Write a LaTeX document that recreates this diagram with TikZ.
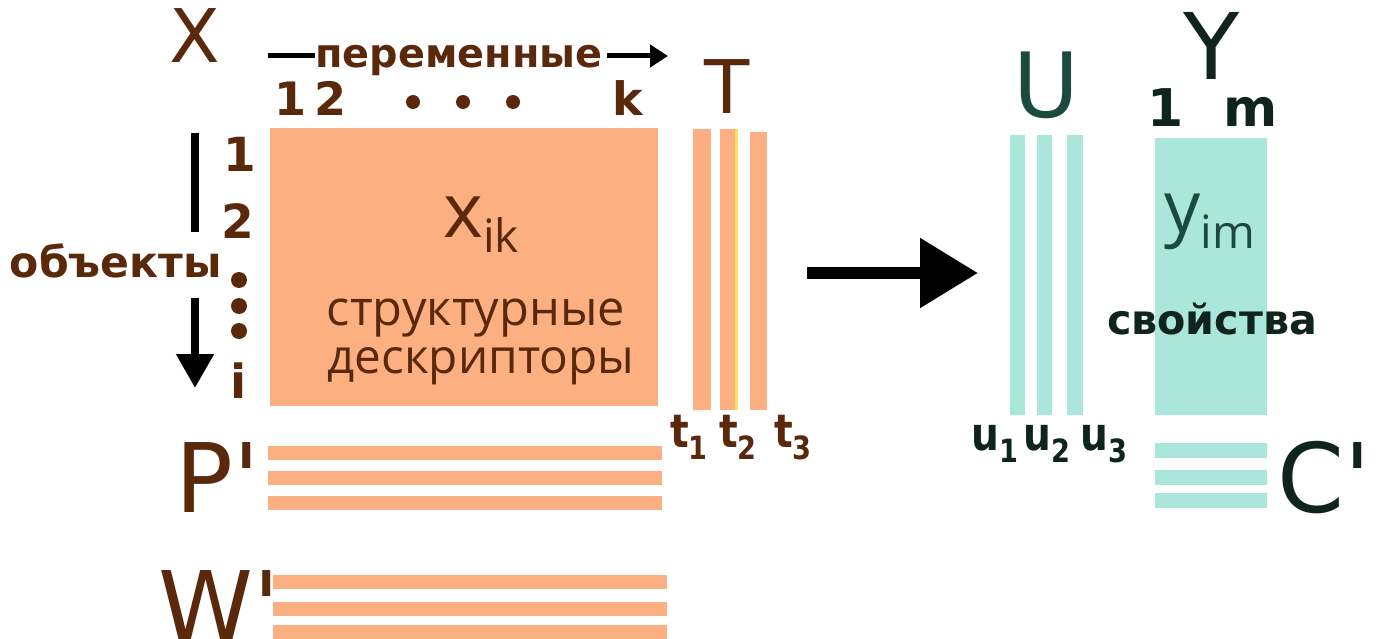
\documentclass[tikz,border=0pt]{standalone}
\usepackage{fontspec}
\usepackage{graphicx}
\setmainfont{DejaVu Sans}
\newfontfamily\plainf{DejaVu Sans}[Ligatures=TeXOff]
\newfontfamily\osans{Open Sans}
\usetikzlibrary{arrows.meta}
\definecolor{brn}{HTML}{5A280A}
\definecolor{orng}{HTML}{FCAF80}
\definecolor{yel}{HTML}{FFE45A}
\definecolor{tl}{HTML}{AAE6DA}
\definecolor{dtl}{HTML}{1B4A3E}
\definecolor{dk}{HTML}{10241E}
\newcommand{\fsz}[1]{\fontsize{#1pt}{#1pt}\selectfont}
\newcommand{\cnd}[1]{\scalebox{0.85}[1]{#1}}
\begin{document}
\begin{tikzpicture}[x=1pt,y=-1pt,
  lab/.style={inner sep=0pt, outer sep=0pt, anchor=base},
  bigB/.style={lab, text=brn, font=\plainf\fsz{74}},
  numB/.style={lab, text=brn, font=\bfseries\fsz{46}},
  numC/.style={lab, text=brn, font=\bfseries\fsz{47}},
  sublab/.style={lab, font=\bfseries\fsz{46}},
  obar/.style={fill=orng, draw=none, inner sep=0pt, outer sep=0pt, anchor=north west},
  tbar/.style={fill=tl, draw=none, inner sep=0pt, outer sep=0pt, anchor=north west},
  dotn/.style={circle, fill=brn, draw=none, inner sep=0pt, minimum size=#1},
  thickline/.style={line width=#1, draw=black},
]
\useasboundingbox (0,0) rectangle (1378,639);

% ---------- left block ----------
\node[bigB] (X) at (195,63) {X};
\node[lab, text=brn, font=\bfseries\fsz{40}] (per) at (459,68) {\resizebox{287pt}{!}{переменные}};
\coordinate (dsh) at (268,56);
\coordinate (arrE) at (668,56);
\draw[thickline=5pt] (dsh) -- (dsh -| per.west);
\draw[thickline=5pt, -{Triangle[length=18pt,width=22pt]}] ([xshift=4pt]per.east |- dsh) -- (arrE);

\node[numB] (c1) at (290,116) {1};
\node[numB] (c2) at (330,116) {2};
\node[dotn=14pt] (cd1) at (413,102) {};
\node[dotn=14pt] (cd2) at (463,102) {};
\node[dotn=14pt] (cd3) at (513,102) {};
\node[numB] (ck) at (628,116) {k};

\node[numC] (r1) at (240,172) {1};
\node[numC] (r2) at (238,238) {2};
\node[dotn=16pt] (rd1) at (239,280) {};
\node[dotn=16pt] (rd2) at (239,306) {};
\node[dotn=16pt] (rd3) at (239,331) {};
\node[numC] (ri) at (239,398) {i};

\node[lab, text=brn, font=\bfseries\fsz{40}] (obj) at (116,277) {\resizebox{212pt}{!}{объекты}};
\coordinate (va) at (195,133);
\coordinate (vb) at (195,232);
\coordinate (vc) at (195,298);
\coordinate (vd) at (195,388);
\draw[thickline=8pt] (va) -- (vb);
\draw[thickline=8pt, -{Triangle[length=34pt,width=36pt]}] (vc) -- (vd);

\node[obar, minimum width=388pt, minimum height=278pt] (xm) at (270,128) {};
\node[lab, text=brn, font=\osans\fsz{76}] (xik) at (481,237) {x\raisebox{-15pt}{\fsz{46}ik}};
\node[lab, text=brn, font=\osans\fsz{50}] (d1) at (476,325) {\resizebox{298pt}{!}{структурные}};
\node[lab, text=brn, font=\osans\fsz{50}] (d2) at (481,373) {\resizebox{307pt}{!}{дескрипторы}};

% T bars
\node[bigB] (T) at (727,114) {T};
\node[obar, minimum width=18pt, minimum height=281pt] (tb1) at (693,129) {};
\node[obar, minimum width=15pt, minimum height=281pt] (tb2) at (720,129) {};
\node[fill=yel, draw=none, inner sep=0pt, anchor=north west, minimum width=3pt, minimum height=281pt] (tby) at (735,129) {};
\node[obar, minimum width=17pt, minimum height=278pt] (tb3) at (750,132) {};
\node[sublab, text=brn] (tl1) at (689,447) {\cnd{t\raisebox{-12pt}{\fsz{32}1}}};
\node[sublab, text=brn] (tl2) at (738,447) {\cnd{t\raisebox{-12pt}{\fsz{32}2}}};
\node[sublab, text=brn] (tl3) at (793,447) {\cnd{t\raisebox{-12pt}{\fsz{32}3}}};

% P' and W'
\node[bigB, font=\plainf\fsz{96}] (P) at (218,512) {P'};
\node[obar, minimum width=394pt, minimum height=14pt] (pb1) at (268,446) {};
\node[obar, minimum width=394pt, minimum height=14pt] (pb2) at (268,471) {};
\node[obar, minimum width=394pt, minimum height=14pt] (pb3) at (268,496) {};
\node[bigB, font=\plainf\fsz{96}] (W) at (219,640) {W'};
\node[obar, minimum width=394pt, minimum height=14pt] (wb1) at (273,575) {};
\node[obar, minimum width=394pt, minimum height=14pt] (wb2) at (273,602) {};
\node[obar, minimum width=394pt, minimum height=14pt] (wb3) at (273,625) {};

% big arrow
\coordinate (ba) at (807,273);
\coordinate (bb) at (978,273);
\draw[thickline=12pt, -{Triangle[length=58pt,width=67pt]}] (ba) -- (bb);

% ---------- right block ----------
\node[lab, text=dtl, font=\fsz{90}] (U) at (1046,118) {U};
\node[tbar, minimum width=15pt, minimum height=280pt] (ub1) at (1010,135) {};
\node[tbar, minimum width=15pt, minimum height=280pt] (ub2) at (1037,135) {};
\node[tbar, minimum width=16pt, minimum height=280pt] (ub3) at (1067,135) {};
\node[sublab, text=dk] (ul1) at (995,450) {\cnd{u\raisebox{-12pt}{\fsz{32}1}}};
\node[sublab, text=dk] (ul2) at (1047,450) {\cnd{u\raisebox{-12pt}{\fsz{32}2}}};
\node[sublab, text=dk] (ul3) at (1104,450) {\cnd{u\raisebox{-12pt}{\fsz{32}3}}};

\node[lab, text=dk, font=\fsz{92}] (Y) at (1212,80) {Y};
\node[lab, text=dk, font=\bfseries\fsz{52}] (y1) at (1166,127) {1};
\node[lab, text=dk, font=\bfseries\fsz{52}] (ymm) at (1251,127) {m};
\node[tbar, minimum width=112pt, minimum height=277pt] (ym) at (1155,138) {};
\node[lab, text=dtl, font=\osans\fsz{72}] (yim) at (1210,232) {y\raisebox{-17pt}{\fsz{46}im}};
\node[lab, text=dk, font=\bfseries\fsz{40}] (sv) at (1212,334) {\resizebox{210pt}{!}{свойства}};

\node[tbar, minimum width=112pt, minimum height=15pt] (cb1) at (1155,443) {};
\node[tbar, minimum width=112pt, minimum height=15pt] (cb2) at (1155,470) {};
\node[tbar, minimum width=112pt, minimum height=15pt] (cb3) at (1155,493) {};
\node[lab, text=dk, font=\plainf\fsz{96}] (C) at (1324,512) {C'};
\end{tikzpicture}
\end{document}
